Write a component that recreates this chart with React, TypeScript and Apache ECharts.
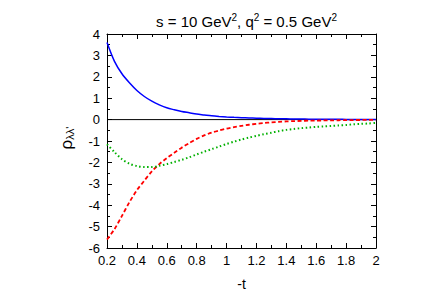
import React, { useEffect, useRef } from "react";
import * as echarts from "echarts";

const tValues = [
  0.2, 0.25, 0.3, 0.35, 0.4, 0.45, 0.5, 0.55, 0.6, 0.65, 0.7, 0.75, 0.8, 0.85, 0.9, 0.95, 1.0,
  1.05, 1.1, 1.15, 1.2, 1.25, 1.3, 1.35, 1.4, 1.45, 1.5, 1.55, 1.6, 1.65, 1.7, 1.75, 1.8, 1.85, 1.9, 1.95, 2.0,
];
const blueValues = [
  3.6, 2.72, 2.14, 1.72, 1.36, 1.08, 0.86, 0.69, 0.55, 0.46, 0.38, 0.32, 0.26, 0.22, 0.18, 0.15, 0.125,
  0.105, 0.09, 0.075, 0.065, 0.056, 0.048, 0.041, 0.035, 0.03, 0.026, 0.022, 0.019, 0.016, 0.014, 0.012, 0.01, 0.009, 0.008, 0.007, 0.006,
];
const redValues = [
  -5.6, -5.12, -4.5, -3.86, -3.3, -2.85, -2.42, -2.08, -1.8, -1.55, -1.31, -1.1, -0.9, -0.74, -0.61, -0.51, -0.42,
  -0.35, -0.29, -0.24, -0.195, -0.16, -0.13, -0.105, -0.085, -0.07, -0.06, -0.05, -0.045, -0.04, -0.035, -0.03, -0.025, -0.02, -0.018, -0.015, -0.012,
];
const greenValues = [
  -1.15, -1.52, -1.85, -2.06, -2.17, -2.22, -2.22, -2.16, -2.08, -1.98, -1.88, -1.76, -1.63, -1.5, -1.38, -1.26, -1.14,
  -1.03, -0.93, -0.84, -0.76, -0.68, -0.61, -0.54, -0.48, -0.44, -0.4, -0.37, -0.34, -0.32, -0.3, -0.27, -0.25, -0.22, -0.2, -0.18, -0.15,
];

const FONT = "Liberation Sans";

function pairs(ys: number[]) {
  return tValues.map((t, i) => [t, ys[i]]);
}

export default function App() {
  const ref = useRef<HTMLDivElement>(null);
  useEffect(() => {
    const chart = echarts.init(ref.current!, null, { renderer: "svg" });
    const axisCommon = {
      axisLine: { show: true, onZero: false, lineStyle: { color: "#000", width: 1 } },
      axisTick: { show: true, inside: true, length: 5, lineStyle: { color: "#000" } },
      minorTick: { show: true, splitNumber: 2, length: 3, lineStyle: { color: "#000" } },
      splitLine: { show: false },
    };
    chart.setOption({
      animation: false,
      backgroundColor: "#fff",
      grid: { left: 107, right: 49, top: 34, bottom: 49 },
      title: {
        text: "s = 10 GeV{sup|2}, q{sup|2} = 0.5 GeV{sup|2}",
        left: 241.5,
        textAlign: "center",
        top: 7,
        textStyle: {
          fontFamily: FONT,
          fontSize: 15,
          fontWeight: "normal",
          color: "#000",
          rich: {
            sup: { fontFamily: FONT, fontSize: 10, verticalAlign: "top", padding: [0, 0, 8, 0], color: "#000" },
          },
        },
      },
      xAxis: [
        {
          type: "value",
          min: 0.2,
          max: 2,
          interval: 0.2,
          ...axisCommon,
          axisLabel: {
            fontFamily: FONT,
            fontSize: 13,
            color: "#000",
            margin: 6,
            formatter: (v: number) => String(Math.round(v * 10) / 10),
          },
          name: "-t",
          nameLocation: "middle",
          nameGap: 29,
          nameTextStyle: { fontFamily: FONT, fontSize: 14, color: "#000" },
        },
        {
          type: "value",
          position: "top",
          min: 0.2,
          max: 2,
          interval: 0.2,
          ...axisCommon,
          axisLabel: { show: false },
        },
      ],
      yAxis: [
        {
          type: "value",
          min: -6,
          max: 4,
          interval: 1,
          ...axisCommon,
          axisLabel: { fontFamily: FONT, fontSize: 13, color: "#000", margin: 7 },
        },
        {
          type: "value",
          position: "right",
          min: -6,
          max: 4,
          interval: 1,
          ...axisCommon,
          axisLabel: { show: false },
        },
      ],
      graphic: [
        {
          type: "text",
          x: 66,
          y: 138,
          rotation: Math.PI / 2,
          style: {
            text: "ρ{sub|λλ'}",
            fontFamily: FONT,
            fontSize: 17,
            fill: "#000",
            align: "center",
            verticalAlign: "middle",
            rich: {
              sub: { fontFamily: FONT, fontSize: 11, verticalAlign: "bottom", padding: [7, 0, 0, 0], fill: "#000" },
            },
          },
        },
      ],
      series: [
        {
          type: "line",
          data: [[0.2, 0], [2, 0]],
          symbol: "none",
          lineStyle: { color: "#000", width: 1 },
          silent: true,
        },
        {
          type: "line",
          data: pairs(blueValues),
          symbol: "none",
          smooth: 0.3,
          lineStyle: { color: "#0000ff", width: 1.5 },
        },
        {
          type: "line",
          data: pairs(redValues),
          symbol: "none",
          smooth: 0.3,
          lineStyle: { color: "#ff0000", width: 1.8, type: [4, 2.5] },
        },
        {
          type: "line",
          data: pairs(greenValues),
          symbol: "none",
          smooth: 0.3,
          lineStyle: { color: "#00b000", width: 2, type: [1.5, 2.5] },
        },
      ],
    });
    return () => chart.dispose();
  }, []);
  return <div ref={ref} style={{ width: 425, height: 297, position: "absolute", left: 0, top: 0 }} />;
}
